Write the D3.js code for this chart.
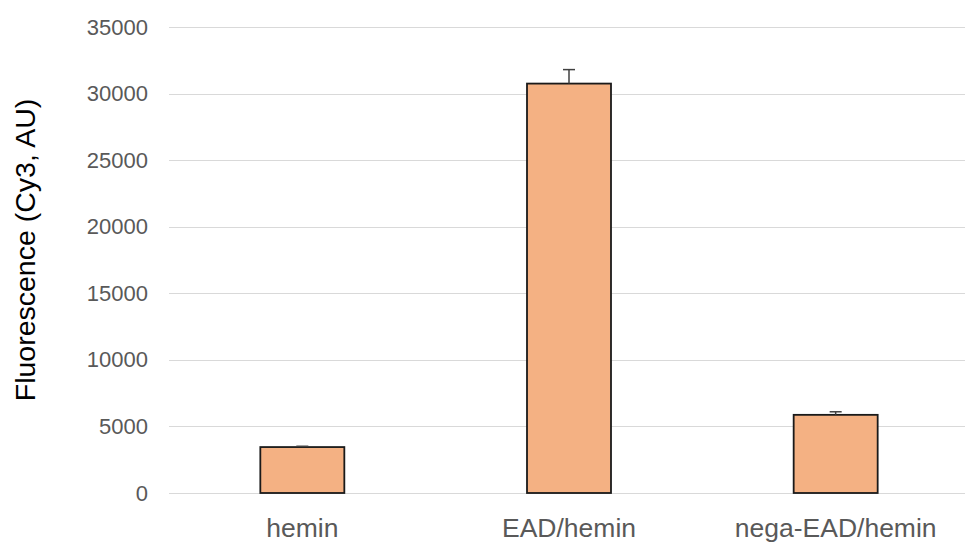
<!DOCTYPE html>
<html>
<head>
<meta charset="utf-8">
<script src="https://cdn.jsdelivr.net/npm/d3@7"></script>
<style>
  html, body { margin: 0; padding: 0; background: #fff; }
  svg { display: block; font-family: "Liberation Sans", Arial, sans-serif; }
</style>
</head>
<body>
<svg id="chart" width="967" height="543"></svg>
<script>
// Fluorescence readings per condition
const categories = ["hemin", "EAD/hemin", "nega-EAD/hemin"];
const values = [3450, 30750, 5870];
const errors = [60, 1050, 230];
const yTicks = [0, 5000, 10000, 15000, 20000, 25000, 30000, 35000];
const yTitle = "Fluorescence (Cy3, AU)";

const svg = d3.select("#chart");

const x = d3.scaleBand()
  .domain(categories)
  .range([169, 969])
  .paddingInner(0.685)
  .paddingOuter(0.3425);

const y = d3.scaleLinear()
  .domain([0, 35000])
  .range([493, 27]);

// Horizontal gridlines
svg.append("g")
  .selectAll("line")
  .data(yTicks)
  .join("line")
  .attr("x1", 169)
  .attr("x2", 965)
  .attr("y1", d => Math.round(y(d)) + 0.5)
  .attr("y2", d => Math.round(y(d)) + 0.5)
  .attr("stroke", "#d9d9d9")
  .attr("stroke-width", 1);

// Y axis tick labels
const yAxis = d3.axisLeft(y).tickValues(yTicks).tickSize(0).tickPadding(0).tickFormat(d3.format("d"));
const gy = svg.append("g").attr("transform", "translate(148,0)").call(yAxis);
gy.select(".domain").remove();
gy.selectAll("text")
  .attr("fill", "#595959")
  .attr("font-size", 22)
  .attr("font-family", "Liberation Sans, Arial, sans-serif");

// X axis category labels
const xAxis = d3.axisBottom(x).tickSize(0).tickPadding(0);
const gx = svg.append("g").attr("transform", "translate(0,537)").call(xAxis);
gx.select(".domain").remove();
gx.selectAll("text")
  .attr("fill", "#595959")
  .attr("font-size", 26.5)
  .attr("dy", 0)
  .attr("y", 0)
  .attr("font-family", "Liberation Sans, Arial, sans-serif");

// Bars
svg.append("g")
  .selectAll("rect")
  .data(categories)
  .join("rect")
  .attr("x", d => x(d))
  .attr("y", (d, i) => y(values[i]))
  .attr("width", x.bandwidth())
  .attr("height", (d, i) => y(0) - y(values[i]))
  .attr("fill", "#f4b183")
  .attr("stroke", "#1a1a1a")
  .attr("stroke-width", 1.8);

// Error bars (upper whisker only)
const eb = svg.append("g").attr("stroke", "#404040").attr("stroke-width", 1.5);
categories.forEach((c, i) => {
  const cx = x(c) + x.bandwidth() / 2;
  const top = y(values[i] + errors[i]);
  eb.append("line").attr("x1", cx).attr("x2", cx).attr("y1", y(values[i])).attr("y2", top);
  eb.append("line").attr("x1", cx - 6).attr("x2", cx + 6).attr("y1", top).attr("y2", top);
});

// Y axis title
svg.append("text")
  .attr("transform", "translate(35,250) rotate(-90)")
  .attr("text-anchor", "middle")
  .attr("fill", "#000")
  .attr("font-size", 28.5)
  .attr("font-family", "Liberation Sans, Arial, sans-serif")
  .text(yTitle);
</script>
</body>
</html>
